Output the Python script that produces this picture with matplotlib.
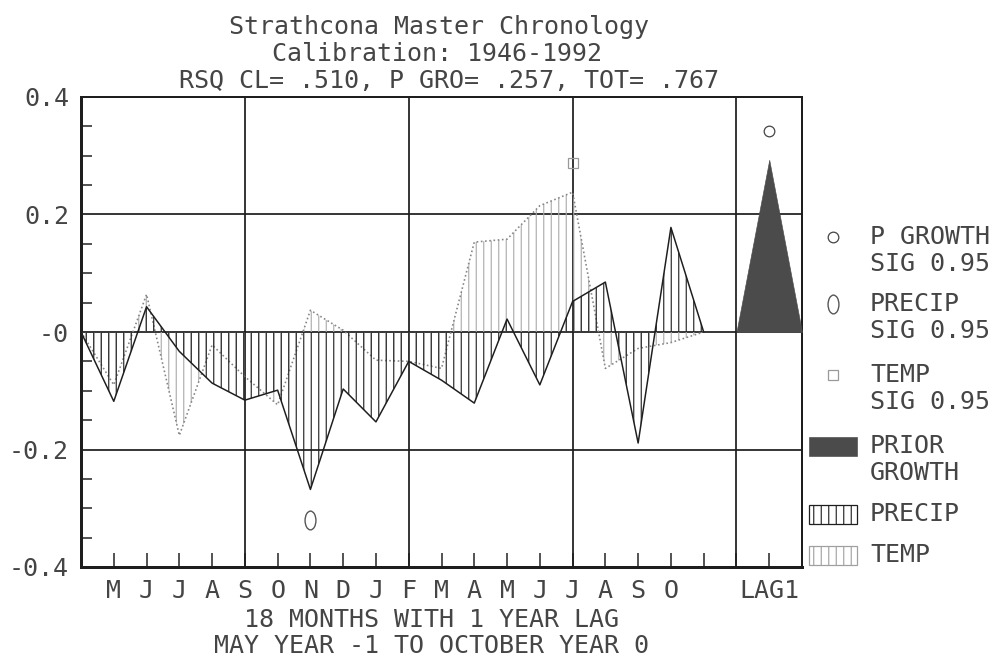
import numpy as np
import matplotlib
matplotlib.use('Agg')
import matplotlib.pyplot as plt
from matplotlib.path import Path
from matplotlib.patches import Rectangle
from matplotlib.lines import Line2D
from matplotlib.transforms import Affine2D

# ---------------- data ----------------
month_labels = ['M', 'J', 'J', 'A', 'S', 'O', 'N', 'D', 'J', 'F',
                'M', 'A', 'M', 'J', 'J', 'A', 'S', 'O']
lag_label = 'LAG1'
month_pos = list(range(0, 20))          # start point + 18 months + end point
precip = [0, -0.118, 0.043, -0.033, -0.087, -0.116, -0.099, -0.268, -0.097,
          -0.153, -0.050, -0.082, -0.121, 0.022, -0.090, 0.052, 0.085,
          -0.189, 0.178, 0]
temp = [0, -0.090, 0.064, -0.176, -0.022, -0.076, -0.124, 0.037, 0.003,
        -0.048, -0.050, -0.062, 0.153, 0.158, 0.215, 0.238, -0.062,
        -0.028, -0.018, 0]
lag_pos = [20, 21, 22]
prior_growth = [0, 0.293, 0]
pgrowth_sig_x, pgrowth_sig_y = [21], [0.342]
precip_sig_x, precip_sig_y = [7], [-0.32]
temp_sig_x, temp_sig_y = [15], [0.287]
ytick_vals = [0.4, 0.2, 0.0, -0.2, -0.4]
ytick_labels = ['0.4', '0.2', '-0', '-0.2', '-0.4']
title_lines = ['Strathcona Master Chronology',
               'Calibration: 1946-1992',
               'RSQ CL= .510, P GRO= .257, TOT= .767']
xlabel_lines = ['18 MONTHS WITH 1 YEAR LAG',
                'MAY YEAR -1 TO OCTOBER YEAR 0']
legend_labels = ['P GROWTH\nSIG 0.95', 'PRECIP\nSIG 0.95', 'TEMP\nSIG 0.95',
                 'PRIOR\nGROWTH', 'PRECIP', 'TEMP']

# ---------------- style ----------------
DPI = 90
W, H = 999, 661
PT = 72.0 / DPI  # points per pixel
plt.rcParams['font.family'] = ['DejaVu Sans Mono', 'DejaVu Sans']
plt.rcParams['hatch.linewidth'] = 0.9
TXT = '#454545'
INK = '#1e1e1e'
FS = 20

def fx(px):
    return px / W

def fy(py):
    return 1 - py / H

fig = plt.figure(figsize=(W / DPI, H / DPI), dpi=DPI)
ax = fig.add_axes([fx(81), fy(567), fx(802) - fx(81), fy(97) - fy(567)])

ax.set_xlim(0, 22)
ax.set_ylim(-0.4, 0.4)

# grid lines
for yv in [0.2, 0.0, -0.2]:
    ax.axhline(yv, color=INK, lw=1.4 * PT * 1.25, zorder=1)
for xv in [5, 10, 15, 20]:
    ax.axvline(xv, color=INK, lw=1.4 * PT * 1.25, zorder=1)

# temperature (stippled)
ax.fill_between(month_pos, 0, temp, facecolor='none', edgecolor='#ababab',
                hatch='||', linewidth=0, zorder=2)
ax.plot(month_pos, temp, color='#858585', lw=1.3, linestyle=(0, (1, 1.6)), zorder=3)

# precipitation (vertical hatch)
ax.fill_between(month_pos, 0, precip, facecolor='none', edgecolor=INK,
                hatch='||', linewidth=0, zorder=4)
ax.plot(month_pos, precip, color=INK, lw=1.2, zorder=5)

# prior growth
ax.fill_between(lag_pos, 0, prior_growth, facecolor='#4b4b4b',
                edgecolor='#4b4b4b', lw=0.5, zorder=4)

# significance markers
unit = Path.unit_circle()
ell = Path(Affine2D().scale(0.58, 1.0).transform(unit.vertices), unit.codes)
ax.plot(pgrowth_sig_x, pgrowth_sig_y, 'o', mfc='none', mec='#444444',
        ms=8.5, mew=1.0, zorder=6)
ax.plot(precip_sig_x, precip_sig_y, marker=ell, ls='none', mfc='none',
        mec='#555555', ms=15, mew=1.1, zorder=6)
ax.plot(temp_sig_x, temp_sig_y, marker='s', ls='none', mfc='none',
        mec='#999999', ms=8, mew=1.0, zorder=6)

# ticks
xt = list(range(1, 23))
xl = month_labels + ['', '', lag_label, '']
ax.set_xticks(xt, xl)
ax.tick_params(axis='x', direction='in', length=14 * PT, width=1.2,
               color=INK, labelsize=FS, labelcolor=TXT, pad=12 * PT)
ax.set_yticks(ytick_vals, ytick_labels)
ax.tick_params(axis='y', which='major', length=0, labelsize=FS,
               labelcolor=TXT, pad=12 * PT)
minor = [v for v in np.round(np.arange(-0.35, 0.36, 0.05), 2)
         if not np.isclose(v % 0.2, 0) and not np.isclose(v % 0.2, 0.2)]
ax.set_yticks(minor, minor=True)
ax.tick_params(axis='y', which='minor', direction='in', length=11 * PT,
               width=1.2, color=INK)
ax.set_xticks([], minor=True)

for side, lw in [('left', 3.0), ('bottom', 3.0), ('top', 2.0), ('right', 2.0)]:
    ax.spines[side].set_linewidth(lw * PT)
    ax.spines[side].set_color(INK)
ax.spines['top'].set_zorder(7)

# titles
title_pos = [(439, 34), (437, 61), (449, 88)]
for txt, (px, py) in zip(title_lines, title_pos):
    fig.text(fx(px), fy(py), txt, ha='center', va='baseline',
             fontsize=FS, color=TXT)

xlabel_pos = [(432, 627), (431, 653)]
for txt, (px, py) in zip(xlabel_lines, xlabel_pos):
    fig.text(fx(px), fy(py), txt, ha='center', va='baseline',
             fontsize=FS, color=TXT)

# legend (manual, figure coordinates)
TX = 870
lg_rows = [237, 304, 375, 446, 514, 555]
line_gap = 27
# markers
fig.add_artist(Line2D([fx(833)], [fy(lg_rows[0])], marker='o', mfc='none',
                      mec='#444444', ms=8.5, mew=1.0, ls='none'))
fig.add_artist(Line2D([fx(833)], [fy(lg_rows[1])], marker=ell, mfc='none',
                      mec='#555555', ms=15, mew=1.1, ls='none'))
fig.add_artist(Line2D([fx(833)], [fy(lg_rows[2])], marker='s', mfc='none',
                      mec='#999999', ms=8, mew=1.0, ls='none'))
# patches
rw, rh = 48, 19
fig.add_artist(Rectangle((fx(809), fy(lg_rows[3] + rh / 2)), rw / W, rh / H,
                         transform=fig.transFigure, facecolor='#4b4b4b',
                         edgecolor='#4b4b4b', lw=0.5))
fig.add_artist(Rectangle((fx(809), fy(lg_rows[4] + rh / 2)), rw / W, rh / H,
                         transform=fig.transFigure, facecolor='white',
                         edgecolor=INK, hatch='||', lw=1.0))
fig.add_artist(Rectangle((fx(809), fy(lg_rows[5] + rh / 2)), rw / W, rh / H,
                         transform=fig.transFigure, facecolor='white',
                         edgecolor='#a0a0a0', hatch='||', lw=1.0))
for lab, row in zip(legend_labels, lg_rows):
    for i, part in enumerate(lab.split('\n')):
        fig.text(fx(TX), fy(row + i * line_gap), part, ha='left',
                 va='center', fontsize=FS, color=TXT)

fig.savefig('out.png', dpi=DPI)
